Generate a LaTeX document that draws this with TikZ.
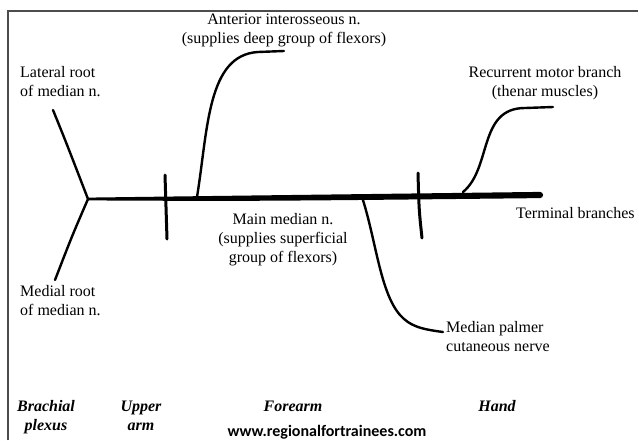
\documentclass[tikz,border=0pt]{standalone}
\usepackage{fontspec}
\setmainfont{Liberation Serif}
\newfontfamily\urlfont{Carlito}
\begin{document}
\begin{tikzpicture}[x=1pt,y=-1pt,
  lbl/.style={font=\fontsize{16}{19}\selectfont, inner sep=0pt, anchor=base},
  region/.style={font=\fontsize{16}{19}\selectfont\bfseries\itshape, inner sep=0pt, anchor=base, align=center},
  nerve/.style={line width=2.4pt, line cap=round},
  tick/.style={line width=3pt, line cap=round},
  frameline/.style={draw=black!70, line width=1.4pt}]
\useasboundingbox (0,0) rectangle (639,440);
% frame
\coordinate (fbl) at (8,440);
\coordinate (ftl) at (8,11);
\coordinate (ftr) at (638,11);
\draw[frameline] (fbl) -- (ftl) -- (ftr);

% main median nerve (tapering)
\coordinate (junction) at (88,199);
\coordinate (mainend) at (540,195);
\fill (88,197.6) .. controls (250,195.5) .. (540,191.9) -- (540,198.1) .. controls (250,201.2) .. (88,200.4) -- cycle;
\fill (mainend) circle (3.1);

% roots
\coordinate (latroot) at (53,110);
\coordinate (medroot) at (55,280);
\draw[nerve] (latroot) .. controls (66,142) .. (junction);
\draw[nerve] (junction) .. controls (72,236) .. (medroot);

% ticks
\coordinate (t1a) at (165,175);
\coordinate (t1b) at (167,239);
\coordinate (t2a) at (418,173);
\coordinate (t2b) at (422,238);
\draw[tick] (t1a) -- (t1b);
\draw[tick] (t2a) .. controls (419,210) .. (t2b);

% anterior interosseous
\coordinate (aistart) at (197,197);
\coordinate (aiend) at (284,51);
\draw[nerve] (aistart) .. controls (208,130) and (207,55) .. (258,52) -- (aiend);

% recurrent motor branch
\coordinate (rmstart) at (463,192);
\coordinate (rmend) at (553,107);
\draw[nerve] (rmstart) .. controls (492,168) and (478,108) .. (525,108) -- (rmend);

% median palmar cutaneous
\coordinate (mpstart) at (362,197);
\coordinate (mpend) at (443,332);
\draw[nerve] (mpstart) .. controls (376,240) and (380,292) .. (400,315) .. controls (410,326) and (420,329) .. (mpend);

% labels (anchor base = baseline of the last line)
\node[lbl, align=center] (ai) at (284,43) {Anterior interosseous n.\\(supplies deep group of flexors)};
\node[lbl, align=left, anchor=base west] (lat) at (20,96) {Lateral root\\of median n.};
\node[lbl, align=center] (rm) at (545,96) {Recurrent motor branch\\(thenar muscles)};
\node[lbl, anchor=base west] (term) at (516,218) {Terminal branches};
\node[lbl, align=center] (mm) at (283,262) {Main median n.\\(supplies superficial\\group of flexors)};
\node[lbl, align=left, anchor=base west] (med) at (20,315) {Medial root\\of median n.};
\node[lbl, align=left, anchor=base west] (mp) at (446,351) {Median palmer\\cutaneous nerve};

\node[region] (bp) at (46,430) {Brachial\\plexus};
\node[region] (ua) at (141,430) {Upper\\arm};
\node[region] (fa) at (293,411) {Forearm};
\node[region] (hd) at (497,411) {Hand};
\node[inner sep=0pt, anchor=base, font=\urlfont\fontsize{16}{19}\selectfont\bfseries] (url) at (327,436) {www.regionalfortrainees.com};
\end{tikzpicture}
\end{document}
